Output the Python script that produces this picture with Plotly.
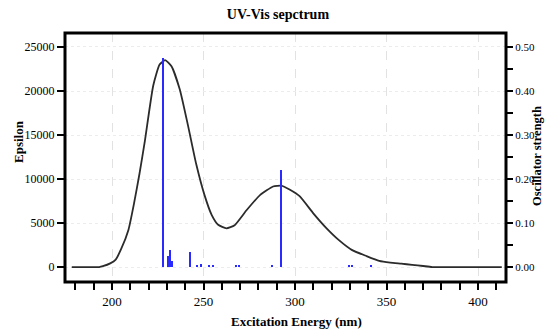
import plotly.graph_objects as go

# Absorption curve (wavelength nm, epsilon)
curve_nm = [178, 185, 193, 195, 199, 202, 205, 209, 212, 215, 218, 222.5, 226, 229,
            232.5, 237, 241.5, 246, 250.5, 254.5, 258, 262.5, 267, 273.5, 281, 288,
            292.5, 297, 302.5, 310, 317, 324, 331, 339, 346, 352, 358, 364, 370, 375, 413]
curve_eps = [0, 0, 0, 100, 420, 850, 2050, 4250, 7200, 10600, 14400, 20600, 23000, 23500,
             22800, 20200, 16100, 11700, 8200, 5900, 4800, 4400, 4750, 6450, 8200, 9150,
             9250, 8800, 8050, 6100, 4450, 3050, 1950, 1250, 700, 500, 380, 250, 120, 0, 0]

# Oscillator strength sticks
stick_nm = [228, 230.8, 232, 233, 242.6, 246.3, 249, 253, 255.5, 267.8, 269.6,
            287.8, 292.3, 329.7, 331, 341.5]
stick_f = [0.474, 0.025, 0.039, 0.014, 0.034, 0.004, 0.006, 0.005, 0.004, 0.003, 0.003,
           0.004, 0.220, 0.002, 0.002, 0.003]

FONT = "Liberation Serif"

fig = go.Figure()
fig.add_trace(go.Scatter(x=curve_nm, y=curve_eps, mode="lines",
                         line=dict(color="#2b2b2b", width=1.8, shape="spline", smoothing=0.5),
                         yaxis="y"))
fig.add_trace(go.Bar(x=stick_nm, y=stick_f, width=0.8, yaxis="y2",
                     marker=dict(color="#2a2aff", line=dict(width=0))))

tickfont = dict(family=FONT, size=12, color="black")
titlefont = dict(family=FONT, size=13, color="black")
fig.update_layout(
    width=545, height=331,
    margin=dict(l=65, r=39, t=33, b=49),
    plot_bgcolor="white", paper_bgcolor="white",
    showlegend=False,
    title=dict(text="<b>UV-Vis sepctrum</b>", x=0.51, xanchor="center", y=0.958, yanchor="middle",
               font=dict(family=FONT, size=14, color="black")),
    xaxis=dict(range=[174.3, 415.3], tickvals=[200, 250, 300, 350, 400], automargin=False,
               ticks="outside", ticklen=7, tickwidth=1.5, tickcolor="black",
               minor=dict(dtick=10, tick0=0, ticks="outside", ticklen=7, tickwidth=1.5,
                          tickcolor="black", showgrid=False),
               showgrid=True, gridcolor="#e2e2e2", griddash="dash", gridwidth=1,
               zeroline=False, showline=False, tickfont=dict(family=FONT, size=13, color="black"),
               tickprefix="<b>", ticksuffix="</b>"),
    yaxis=dict(range=[-1700, 26590], tickvals=[0, 5000, 10000, 15000, 20000, 25000],
               automargin=False,
               tickformat="d", ticks="outside", ticklen=7, tickwidth=1.5, tickcolor="black",
               showgrid=True, gridcolor="#ececec", griddash="dot", gridwidth=1,
               zeroline=False, showline=False, tickfont=tickfont,
               tickprefix="<b>", ticksuffix="</b>"),
    yaxis2=dict(range=[-0.0345, 0.5318], overlaying="y", side="right", automargin=False,
                tickvals=[0, 0.1, 0.2, 0.3, 0.4, 0.5], tickformat=".2f",
                ticks="outside", ticklen=6, tickwidth=1.5, tickcolor="black",
                minor=dict(dtick=0.05, tick0=0, ticks="outside", ticklen=6, tickwidth=1.5,
                           tickcolor="black", showgrid=False),
                showgrid=False, zeroline=False, showline=False,
                tickfont=dict(family=FONT, size=11, color="black"),
                tickprefix="<b>", ticksuffix="</b>"),
    bargap=0,
)
fig.add_shape(type="rect", xref="paper", yref="paper", x0=0, x1=1, y0=0, y1=1,
              line=dict(color="black", width=3), layer="above")

# Axis titles placed as annotations (paper coords relative to plot area 65..506 x, 33..282 y)
fig.add_annotation(text="<b>Excitation Energy (nm)</b>", xref="paper", yref="paper",
                   x=(296 - 65) / 441, y=-(321 - 282) / 249, showarrow=False,
                   xanchor="center", yanchor="middle", font=titlefont)
fig.add_annotation(text="<b>Epsilon</b>", xref="paper", yref="paper",
                   x=-(65 - 18) / 441, y=(282 - 142) / 249, showarrow=False, textangle=-90,
                   xanchor="center", yanchor="middle", font=titlefont)
fig.add_annotation(text="<b>Oscillator strength</b>", xref="paper", yref="paper",
                   x=1 + (537 - 506) / 441, y=(282 - 156) / 249, showarrow=False, textangle=-90,
                   xanchor="center", yanchor="middle",
                   font=dict(family=FONT, size=12.5, color="black"))

fig.write_html("out.html")
